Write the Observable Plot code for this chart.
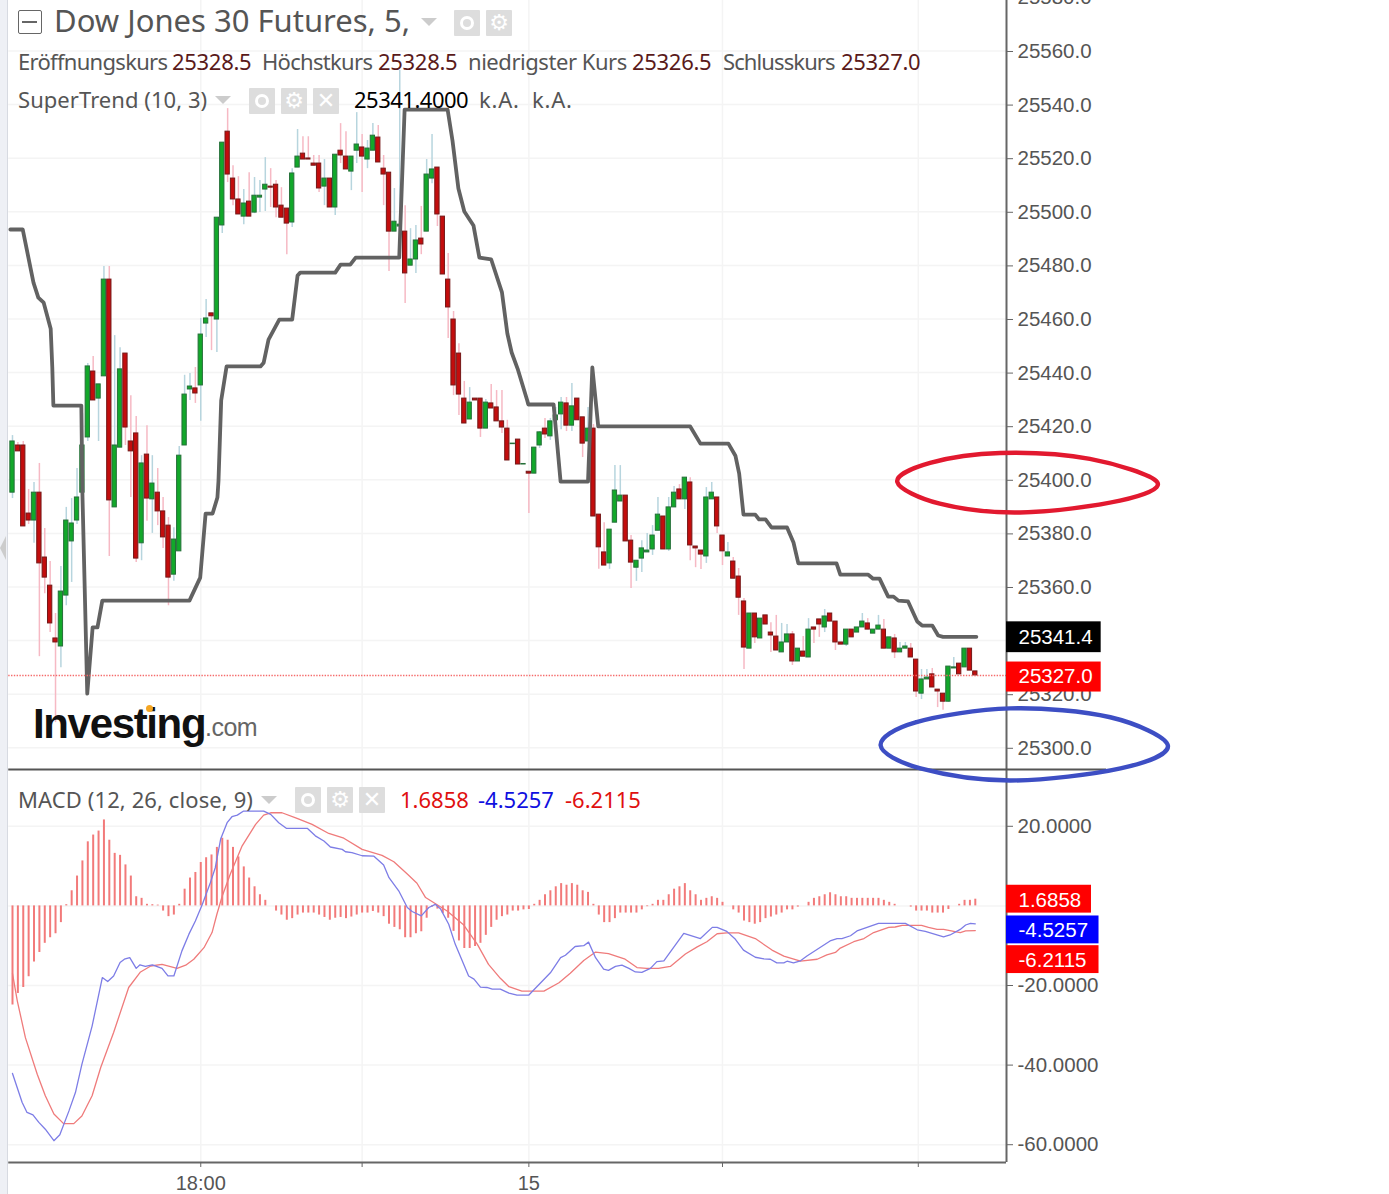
<!DOCTYPE html>
<html><head><meta charset="utf-8">
<script src="https://cdn.jsdelivr.net/npm/d3@7"></script>
<script src="https://cdn.jsdelivr.net/npm/@observablehq/plot@0.6"></script>
<style>
html,body{margin:0;padding:0;background:#fff;}
#wrap{position:relative;width:1389px;height:1194px;overflow:hidden;background:#fff;}
#wrap svg{position:absolute;left:0;background:transparent;}
.t{position:absolute;white-space:pre;font-family:"Noto Sans",sans-serif;color:#555;line-height:1;}
.b{position:absolute;width:26px;height:26px;background:#ddd;border-radius:1px;color:#fff;text-align:center;font:22px/26px "DejaVu Sans";}
.c{position:absolute;width:0;height:0;border-left:8px solid transparent;border-right:8px solid transparent;border-top:8px solid #ccc;}
.e::after{content:"";position:absolute;left:6px;top:6px;width:8px;height:8px;border:3px solid #fff;border-radius:50%;}
</style></head><body><div id="wrap"></div>
<script>
const barOpen=[
25395.2,25412.8,25412.8,25387.4,25384.8,25395.2,25371,25360.5,25340.8,25337.8,
25356.8,25377,25384.8,25395.2,25415.8,25440.4,25430.3,25438.6,25474.7,25389.7,
25412,25447.1,25414.3,25417.3,25376.3,25409.4,25392.7,25395.2,25388.2,25382.9,
25364.6,25373.3,25412.8,25433.7,25434.1,25435.2,25458.3,25462.1,25459.8,25494.9,
25529.9,25512.4,25504.6,25498.2,25503.8,25499.7,25505.3,25508.3,25509.4,25510.1,
25502.3,25501.2,25496,25516.5,25521.7,25519.9,25518,25518,25509.4,25512.4,
25501.6,25522.8,25520.6,25515,25522.8,25524,25519.5,25522.8,25527.7,25516.1,
25514.6,25492.6,25494.5,25492.6,25479.9,25482.2,25490,25492.6,25512.4,25516.5,
25498.2,25474.7,25459.8,25447.1,25430.3,25422.5,25430.3,25430.3,25419.1,25428.5,
25427,25421.8,25419.1,25413.3,25415,25405.7,25403,25402.3,25412.8,25419.1,
25416.2,25422.2,25424.4,25428.5,25420.2,25430.3,25423.3,25414.3,25419.1,25387,
25372.9,25368.8,25384,25391.9,25394.1,25377.3,25367.2,25370.6,25372.9,25374,
25381,25386.3,25374,25389.7,25396.4,25392.7,25399,25375.1,25373.6,25371.4,
25392.7,25393.4,25379.2,25371.4,25369.5,25363.9,25354.6,25337,25350.1,25340.8,
25349.4,25343,25341.5,25335.6,25339.3,25342.3,25332.2,25335.9,25333.7,25344.9,
25347.9,25344.9,25350.1,25347.1,25339.3,25338.5,25344.1,25343,25344.9,25346.4,
25342.6,25344.1,25344.1,25337,25340.8,25335.6,25337,25337,25332.9,25320.2,
25325.5,25327.4,25321.7,25320.2,25317.2,25329.6,25331.4,25330,25337,25328.5];
const barClose=[
25414.3,25410.6,25382.6,25384.8,25395.2,25368.8,25363.5,25346.4,25339.3,25358.3,
25384.8,25383.7,25393.4,25412.8,25442.3,25429.6,25435.6,25474.7,25392.3,25412.8,
25441.2,25419.5,25410.6,25370.6,25406.1,25393,25398.6,25388.2,25378.5,25363.5,
25377.7,25409,25431.8,25434.8,25432.2,25454.2,25460.2,25461,25497.8,25525.8,
25513.9,25504.6,25499,25503.1,25498.2,25506,25506,25510.1,25509,25501.6,
25497.8,25495.6,25514.3,25520.6,25519.5,25519.5,25517.2,25508.7,25512.4,25501.6,
25521.3,25521,25515.8,25520.6,25525.1,25520.6,25523.6,25528.4,25518.4,25513.9,
25492.6,25496.3,25495.2,25477,25482.2,25489.3,25487.8,25513.9,25515.8,25499,
25476.6,25464.3,25435.2,25431.8,25421,25428.8,25429.6,25419.1,25428.8,25426.6,
25421.8,25419.5,25407.2,25413.5,25405.7,25405.9,25402.3,25412,25417.7,25416.9,
25421.8,25424,25428.8,25420.2,25427.4,25422.2,25413.5,25419.1,25386.3,25374.8,
25368,25381.4,25396,25394.1,25377,25369.1,25369.8,25374.4,25373.6,25379.2,
25387,25374,25389.7,25395.2,25392.7,25400.8,25375.5,25374.4,25372.1,25393.4,
25395.2,25382.6,25373.3,25372.9,25363.1,25356,25337.4,25350.1,25341.2,25348.2,
25346,25341.9,25336.3,25339.3,25342.3,25332.2,25337,25334,25344.1,25344.1,
25346,25349,25347.1,25339.3,25338.5,25344.1,25341.2,25344.9,25347.1,25344.1,
25344.1,25345.6,25337,25341.2,25335.6,25337,25337.8,25333.7,25321,25325.5,
25326.2,25322.5,25321,25317.2,25330.3,25330,25327.4,25337,25328.8,25327];
const barHigh=[
25416.5,25413.9,25414.3,25396.4,25399,25406.1,25381.8,25369.5,25350.1,25367.6,
25389.7,25393,25404.2,25424.7,25443.4,25446,25435.6,25479.6,25479.6,25453.8,
25449.3,25447.1,25431.4,25423.6,25409,25420.2,25409,25404.2,25393.4,25385.9,
25382.1,25412.4,25439,25439.7,25441.9,25460.2,25467.3,25462.1,25497.8,25525.8,
25538.5,25517.2,25513.1,25508.3,25514.6,25512.8,25511.7,25520.2,25516.1,25511.7,
25509,25501.2,25516.1,25530.7,25528,25528,25521,25521,25519.5,25512.4,
25521.3,25532.9,25529.9,25520.6,25537,25528.8,25526.6,25532.9,25532.2,25521,
25514.6,25508.7,25552.7,25502.3,25493.7,25494.9,25502,25519.5,25528.8,25516.5,
25498.2,25484.4,25462.8,25450.8,25436.7,25434.4,25430.3,25430.3,25430,25435.6,
25433.3,25433.3,25422.2,25413.5,25415,25405.9,25403,25412,25418,25422.9,
25422.9,25427,25430.7,25430.7,25435.9,25430.3,25423.3,25427,25420.6,25387,
25384,25381.4,25405.3,25405.3,25394.1,25379.2,25369.8,25377.3,25380,25382.9,
25393.4,25386.3,25393.4,25397.5,25398.2,25400.8,25400.8,25375.1,25373.6,25397.1,
25399,25393.4,25379.2,25376.6,25371,25366.9,25355.7,25350.1,25350.1,25348.2,
25349.4,25346.7,25349.4,25346.4,25346,25343.4,25337,25341.5,25348.2,25344.9,
25347.9,25351.6,25350.1,25347.1,25339.3,25344.1,25344.1,25344.9,25350.1,25348.2,
25344.1,25349.4,25347.9,25341.2,25342.3,25339.3,25339.3,25338.9,25332.9,25329.2,
25329.2,25329.6,25321.7,25320.2,25330.3,25333.7,25331.4,25337,25337,25328.5];
const barLow=[
25393,25410.6,25382.6,25383.3,25376.3,25334,25357.5,25343,25309.4,25329.9,
25353,25361.7,25383.3,25395.2,25414.3,25429.6,25414.3,25438.6,25371.4,25389.7,
25412,25412.8,25393.4,25369.1,25369.8,25384.5,25380,25382.9,25374.4,25353,
25362.1,25373.3,25412.8,25429.6,25428.5,25421.8,25453.1,25448.2,25447.5,25491.9,
25510.9,25502.3,25499,25495.2,25498.2,25499.3,25499.7,25500.1,25501.6,25497.8,
25497.8,25484,25494.1,25516.5,25519.5,25519.5,25517.2,25507.2,25502.3,25501.6,
25498.6,25518,25515.8,25507.9,25518,25507.2,25516.1,25522.8,25518.4,25502.3,
25477.7,25492.6,25486.3,25465.8,25479.9,25477,25484,25492.6,25510.5,25494.5,
25476.6,25452.7,25431.4,25424,25421,25422.5,25429.6,25415.8,25419.1,25426.6,
25421.8,25417.3,25407.2,25413.3,25405.7,25405.7,25387.4,25402.3,25411.7,25415.4,
25414.7,25422.2,25418.7,25418,25418,25422.2,25408.3,25414.3,25386.3,25366.6,
25368,25366.6,25384,25391.9,25377,25359.4,25362.1,25365.4,25372.9,25371.8,
25381,25374,25373.3,25389.7,25392.7,25388.9,25369.8,25367.2,25366.5,25368.8,
25392.7,25380,25368,25371.4,25363.1,25349.4,25329.2,25337,25338.9,25340.8,
25346,25335.6,25336.3,25335.6,25339.3,25330.7,25332.2,25334,25333.7,25338.9,
25341.2,25343,25347.1,25336.3,25338.5,25337.8,25341.2,25343,25344.9,25344.1,
25342.6,25344.1,25337,25337,25333.3,25335.6,25337,25333.7,25318.8,25318,
25325.5,25322.5,25315,25314,25316.9,25329.6,25327.4,25330,25328.8,25326.5];

const trendPairs=[[-0.4,25493.4],[1.9,25493.4],[3.9,25473.6],[4.8,25468],[5.8,25466.1],[7.1,25456.4],[7.4,25441.9],[7.6,25427.7],[12.8,25427.7],[13,25394.9],[13.9,25320.2],[14.9,25344.9],[15.8,25344.9],[16.7,25354.9],[32.9,25354.9],[34.9,25363.5],[35.9,25387.4],[37.2,25387.4],[38.1,25393.4],[38.3,25399.7],[38.8,25429.6],[39.8,25442.3],[46.1,25442.3],[46.7,25443.7],[47.6,25452.3],[49.6,25459.8],[52,25459.8],[53,25476.2],[53.5,25477.3],[60,25477.3],[61,25480.3],[62.8,25480.3],[63.8,25482.9],[71.9,25482.9],[72.9,25538.1],[80.9,25538.1],[81.8,25526.6],[82.9,25508.7],[84,25500.1],[85.7,25494.9],[86.8,25482.9],[89,25482.2],[91,25469.9],[92,25454.6],[92.8,25447.5],[93.9,25441.5],[95.7,25429.6],[95.9,25428.1],[100.6,25428.1],[101.9,25399.3],[107,25399.3],[107.8,25441.9],[108.9,25419.9],[126,25419.9],[127.9,25413.5],[133.1,25413.5],[134.4,25409],[135.1,25402.3],[135.9,25387],[138.1,25387],[138.8,25385.2],[140,25385.2],[141.1,25382.2],[144,25382.2],[145.2,25376.6],[146.1,25368.8],[153.2,25368.8],[153.9,25364.6],[159.1,25364.6],[160,25363.1],[161.2,25363.1],[162.8,25356.4],[163.8,25356.4],[164.7,25354.9],[166.5,25354.6],[168.2,25347.1],[169.1,25345.6],[171,25345.6],[172.1,25341.9],[173,25341.4],[179.2,25341.4]];

const histValue=[-24.9,-22,-20.5,-17.8,-14.1,-11.7,-9.4,-8,-7,-4.2,0.3,3.8,7.5,11.3,16.1,17.8,18.8,21.6,16.5,13.2,12.7,10.3,7.5,2.3,1.9,0.4,0.3,0.2,-1.3,-2.7,-2.3,0.4,4.2,7,8.4,10.9,12.1,12.8,14.7,17,16.5,14.7,12.3,9.8,7,4.8,2.8,1.4,0,-1.3,-2.3,-3.6,-3.2,-2.3,-1.8,-1.8,-1.8,-2.3,-2.9,-3.6,-3.1,-2.9,-3.2,-2.8,-2.3,-1.8,-1.8,-1.4,-1.8,-2.7,-4.6,-5.4,-6,-8,-8,-7,-6.5,-3.1,-0.3,-0.8,-1.9,-3.1,-6.4,-8.8,-10.7,-10.7,-10.2,-9.4,-7.4,-5.4,-3.6,
-2.7,-2.3,-1.3,-1.3,-1,-0.9,0.4,1.4,2.8,3.8,4.8,5.6,5.2,5.6,5.2,3.8,3.4,0.4,-2.3,-4.2,-4.2,-3.2,-1.8,-1.8,-1.8,-1.8,-1,-0.2,0.4,1.4,1.4,2.8,4.2,4.8,5.6,3.8,2.8,1.4,1.9,2.3,1.9,0.9,0,-1,-1.8,-3.8,-4.2,-4.6,-4.2,-3.2,-2.8,-2.3,-1.8,-1,-1,-0.3,0,0.9,1.9,2.3,2.8,3.3,2.8,2.3,2.3,1.9,1.9,1.9,1.9,1.9,1.9,1.4,0.9,0.4,0,0,-0.3,-1.3,-1.3,-1.3,-1.8,-1.8,-1.8,-0.9,0,0.4,1.4,1.4,1.6858];

const macdPairs=[[0,-42.1],[1.8,-49.4],[2.7,-51.9],[3.8,-52.5],[4.9,-54.4],[6.1,-56.1],[7.7,-59],[8.8,-57.5],[10.5,-51.5],[11.7,-46.9],[12.9,-39.8],[14.8,-30.2],[16.7,-18],[17.7,-19],[18.8,-17.6],[20,-14.2],[20.8,-13.4],[21.8,-13],[23,-15.7],[23.7,-14.8],[24.7,-15.2],[26,-14.8],[27.8,-15.7],[28.9,-17.6],[30,-17.6],[31.5,-11.3],[32.8,-7.1],[34,-3.8],[35.3,0.4],[36.8,5.9],[37.7,9.6],[38.7,16.8],[39.9,20.9],[40.8,22.4],[41.8,22.8],[42.9,23.8],[46.7,23.8],[48,23],[49.5,20.9],[50.9,19.5],[54.8,19.5],[56.3,17.6],[57.9,16.3],[59.1,14.8],[61.3,14.2],[61.9,13.6],[63.1,13.4],[65,12.6],[67.2,12.5],[69,10.3],[70,7.1],[71.8,3.8],[73.4,-0.4],[74.3,-1.4],[76,-2.5],[77.4,-0.4],[78.6,0.4],[79.6,-0.8],[81.1,-4.6],[82.3,-9.6],[84.8,-17.6],[85.8,-18.4],[87,-20.4],[88.2,-20.5],[89.2,-20.9],[90.7,-20.9],[92.3,-21.9],[93.8,-22.4],[96,-22.4],[100,-16.8],[101.9,-13],[102.8,-12.4],[104.6,-10.2],[106.2,-10],[107.1,-9.1],[108.4,-13],[109.9,-15.9],[110.8,-16.2],[112.1,-15.2],[113.3,-14.9],[114.6,-15.7],[115.8,-16.6],[117,-16.7],[118.6,-15.7],[119.8,-14],[121.1,-13.8],[124.8,-6.9],[127.9,-8.2],[130.1,-5.4],[131,-5.4],[132.8,-6.4],[134.4,-8.4],[135.9,-11.1],[138.1,-12.9],[139.7,-13.3],[140.9,-13.4],[142.1,-14.3],[143.4,-14.3],[144,-13.9],[145.2,-14.3],[146.5,-13.8],[147.7,-12.6],[152,-8.8],[153.3,-8.2],[154.2,-8.2],[155.8,-7.5],[157,-6.3],[161,-4.4],[166,-4.4],[168.2,-6],[169.7,-6.4],[173.1,-7.8],[174.3,-7.3],[176.2,-5.9],[177.2,-4.8],[178.1,-4.4],[179,-4.5]];
const signalPairs=[[0,-17],[0.9,-23.9],[2.4,-33.1],[4.6,-42.3],[6.1,-47.7],[7.7,-52.3],[9.5,-54.7],[11.4,-54.7],[12.9,-52.8],[14.8,-47.7],[16.4,-40.6],[18.8,-31.8],[21.6,-20.5],[23.8,-16.6],[25.7,-15.1],[27.8,-14.7],[30.6,-15.7],[32.2,-14.9],[33.7,-13.4],[35.6,-10.5],[37.1,-6.7],[38,-2.1],[39,2.5],[40.5,8],[42.7,15.1],[45.2,20.5],[46.7,22.8],[48,23.4],[50.1,23.4],[52.9,22],[55.7,20.5],[58.8,18.2],[61.6,17],[65,14.2],[68.7,12.7],[70.9,11.1],[73.4,8],[75.2,5.7],[76.8,2.1],[80.8,-1.3],[83.9,-4.8],[86.4,-9.6],[88.5,-14.7],[90.7,-18.2],[92.3,-20.3],[94.7,-21.4],[98.8,-21.4],[101.6,-19.3],[103.7,-16.9],[106.2,-13.7],[108.4,-11.6],[110.8,-12],[113.9,-13.4],[116.1,-15.5],[117.9,-15.7],[120.1,-15.7],[122.3,-15.2],[125.1,-12.1],[127.3,-10.3],[129.1,-9],[131,-7],[132.8,-6.8],[135,-6.8],[138.1,-8.2],[141.2,-11.1],[143.4,-12.6],[146.5,-13.9],[149.6,-13.4],[151.4,-12.3],[153,-11.7],[153.9,-10.6],[156.4,-9],[158.3,-8.2],[160.1,-6.7],[162.9,-5.4],[164.1,-5.3],[165.4,-4.9],[169,-4.9],[170.3,-5.4],[171.9,-5.9],[173.1,-5.9],[175,-6.4],[176.2,-6.7],[177.2,-6.3],[179,-6.2]];

const priceGrid=[25560,25540,25520,25500,25480,25460,25440,25420,25400,25380,25360,25340,25320,25300];
const priceLabels=[25580,25560,25540,25520,25500,25480,25460,25440,25420,25400,25380,25360,25320,25300];
const macdGrid=[20,0,-20,-40,-60];
const macdLabels=[20,-20,-40,-60];
const timeTicks=[35,65,96,132,168.4];
const timeLabels=["18:00","","15","",""];
const lastClose=25327, lastTrend=25341.4;
const macdTags=[{v:1.6858,t:"1.6858",c:"#ff0000",w:15.8,dy:0},{v:-4.5257,t:"-4.5257",c:"#0000ff",w:17.2,dy:6},{v:-6.2115,t:"-6.2115",c:"#ff0000",w:17.2,dy:29}];
const redRing=[[164.5,25399.2],[170.6,25406.3],[183.6,25410],[200.3,25407.8],[212.8,25399.2],[205.9,25392.2],[187.3,25387.8],[172.4,25391.1]];
const blueRing=[[161.4,25300.9],[167.9,25309.5],[185.5,25314.7],[204.1,25311.4],[214.8,25300.9],[206,25292.3],[185.5,25287.8],[168.8,25292.3]];

const xDomain=[-2.23,184.8], xRange=[0,1006];
const bars=barOpen.map((o,i)=>({i,o,c:barClose[i],h:barHigh[i],l:barLow[i],up:barClose[i]>=o}));
const axisGray="#666", textGray="#555", gridC="#f4f4f4";
const ringMark=(pts,c)=>Plot.line(pts,{x:"0",y:"1",curve:"cardinal-closed",stroke:c,strokeWidth:4.4});
const tagRect=(y1,y2,c,w=17.6)=>Plot.rect([0],{x1:()=>184.8,x2:()=>184.8+w,y1:()=>y1,y2:()=>y2,fill:c});

const top_=Plot.plot({
  width:1389,height:1194,marginLeft:0,marginRight:383,marginTop:0,marginBottom:425,
  style:{fontFamily:"'Liberation Sans',Arial,sans-serif",background:"transparent",overflow:"visible"},
  x:{domain:xDomain,range:xRange,axis:null},
  y:{domain:[25578.84,25291.9],range:[0,769],axis:null},
  marks:[
    Plot.ruleY(priceGrid,{x1:-0.7,x2:184.8,stroke:gridC,strokeWidth:1.5}),
    Plot.ruleX(timeTicks,{stroke:gridC,strokeWidth:1.5}),
    Plot.ruleX(bars,{x:"i",y1:"l",y2:"h",stroke:d=>d.up?"#b7d5de":"#f6b9c4",strokeWidth:1.5}),
    Plot.rect(bars,{x1:d=>d.i-.4,x2:d=>d.i+.4,y1:"o",y2:"c",fill:d=>d.up?"#12a82a":"#c30d0d",stroke:d=>d.up?"#256f39":"#741818",strokeWidth:1}),
    Plot.line(trendPairs,{x:"0",y:"1",stroke:"#626262",strokeWidth:3.8}),
    Plot.ruleY([lastClose],{x1:-0.7,x2:184.8,stroke:"#f56b6b",strokeWidth:1.6,strokeDasharray:"1.4,1.4"}),
    Plot.ruleX([184.8],{stroke:axisGray,strokeWidth:2}),
    Plot.ruleY([25291.9],{x1:-0.7,x2:203.4,stroke:"#555",strokeWidth:2}),
    Plot.axisY({anchor:"right",ticks:priceLabels,tickFormat:d=>d.toFixed(1),fontSize:20.5,tickSize:6,tickPadding:5,label:null,stroke:axisGray,fill:textGray,dy:0.5}),
    tagRect(lastTrend+5.6,lastTrend-5.9,"#000"),
    tagRect(lastClose+5,lastClose-6.2,"#ff0000"),
    Plot.text([lastTrend],{x:184.8,y:d=>d,text:d=>d.toFixed(1),dx:12,dy:1,textAnchor:"start",fill:"#fff",fontSize:20.5}),
    Plot.text([lastClose],{x:184.8,y:d=>d,text:d=>d.toFixed(1),dx:12,dy:1.5,textAnchor:"start",fill:"#fff",fontSize:20.5}),
    ringMark(redRing,"#e2192f"),
    ringMark(blueRing,"#3d4ec4")
  ]
});
const bottom_=Plot.plot({
  width:1389,height:425,marginLeft:0,marginRight:383,marginTop:0,marginBottom:32,
  style:{fontFamily:"'Liberation Sans',Arial,sans-serif",background:"transparent",overflow:"visible"},
  x:{domain:xDomain,range:xRange,axis:null},
  y:{domain:[34.27,-64.47],range:[0,393],axis:null},
  marks:[
    Plot.ruleY(macdGrid,{x1:-0.7,x2:184.8,stroke:gridC,strokeWidth:1.5}),
    Plot.ruleX(timeTicks,{stroke:gridC,strokeWidth:1.5}),
    Plot.ruleX(histValue.map((v,i)=>({v,i})),{x:"i",y1:0,y2:"v",stroke:"#f27a7a",strokeWidth:2}),
    Plot.line(signalPairs,{x:"0",y:"1",stroke:"#ef7b7b",strokeWidth:1.3}),
    Plot.line(macdPairs,{x:"0",y:"1",stroke:"#7d7de6",strokeWidth:1.3}),
    Plot.ruleX([184.8],{stroke:axisGray,strokeWidth:2}),
    Plot.ruleY([-64.47],{x1:-0.7,x2:184.8,stroke:axisGray,strokeWidth:2}),
    Plot.axisY({anchor:"right",ticks:macdLabels,tickFormat:d=>d.toFixed(4),fontSize:20.5,tickSize:6,tickPadding:5,label:null,stroke:axisGray,fill:textGray}),
    Plot.axisX({anchor:"bottom",ticks:timeTicks,tickFormat:d=>timeLabels[timeTicks.indexOf(d)],fontSize:20,tickSize:5,tickPadding:8,label:null,stroke:axisGray,fill:textGray}),
    ...macdTags.map(t=>Plot.rect([t],{x1:()=>184.8,x2:()=>184.8+t.w,y1:()=>t.v+3.5,y2:()=>t.v-3.5,fill:t.c,dy:t.dy})),
    ...macdTags.map(t=>Plot.text([t],{x:184.8,y:"v",text:"t",dx:12,dy:t.dy+1,textAnchor:"start",fill:"#fff",fontSize:20.5}))
  ]
});
const wrap=document.getElementById("wrap");
bottom_.style.top="769px";top_.style.top="0px";
wrap.append(bottom_,top_);
const add=(cls,css,txt)=>{const d=document.createElement("div");d.className=cls;d.style.cssText=css;if(txt!=null)d.textContent=txt;wrap.append(d);return d;};
add("", "position:absolute;left:0;top:0;width:7px;height:1194px;background:#eef0f5;border-right:1.5px solid #d7dae1;");
add("", "position:absolute;left:0;top:536px;width:0;height:0;border-top:12px solid transparent;border-bottom:12px solid transparent;border-right:6px solid #ccc;");
add("", "position:absolute;left:18px;top:10px;width:22px;height:22px;border:1.5px solid #666;border-radius:2px;");
add("", "position:absolute;left:22px;top:21px;width:15px;height:1.5px;background:#666;");
add("t","left:54px;top:5px;font-size:31px;","Dow Jones 30 Futures, 5,");
add("c","left:421px;top:18px;");
add("b e","left:454px;top:10px;");add("b","left:486px;top:10px;","⚙");
const row=(y,parts,size)=>parts.forEach(([x,s,c,ls])=>add("t",`left:${x}px;top:${y}px;font-size:${size}px;${c?`color:${c};`:""}${ls?`letter-spacing:${ls}px;`:""}`,s));
const dk="#5a1a1a";
row(50,[[18,"Eröffnungskurs",null,-0.7],[172,"25328.5",dk,-0.3],[262,"Höchstkurs",null,-0.7],[378,"25328.5",dk,-0.3],[468,"niedrigster Kurs",null,-0.45],[632,"25326.5",dk,-0.3],[723,"Schlusskurs",null,-0.9],[841,"25327.0",dk,-0.3]],22);
row(88,[[18,"SuperTrend (10, 3)",null,0.05],[354,"25341.4000","#000",-0.5],[479,"k.A.",null,0.8],[532,"k.A.",null,0.8]],22);
add("c","left:215px;top:96px;");
add("b e","left:249px;top:88px;");add("b","left:281px;top:88px;","⚙");add("b","left:313px;top:88px;","✕");
row(788,[[18,"MACD (12, 26, close, 9)",null,0.1],[400,"1.6858","#e01010"],[478,"-4.5257","#1010e0"],[565,"-6.2115","#e01010"]],22);
add("c","left:261px;top:796px;");
add("b e","left:295px;top:787px;");add("b","left:327px;top:787px;","⚙");add("b","left:359px;top:787px;","✕");
add("t","left:33px;top:703px;font:bold 42px/1 'Liberation Sans';color:#111;letter-spacing:-1.35px;","Investing");
add("t","left:205px;top:715px;font:25px/1 'Liberation Sans';color:#666;letter-spacing:-.5px;",".com");
add("","position:absolute;left:146px;top:705px;width:7px;height:7px;background:#f5a623;border-radius:50%;");
</script></body></html>
